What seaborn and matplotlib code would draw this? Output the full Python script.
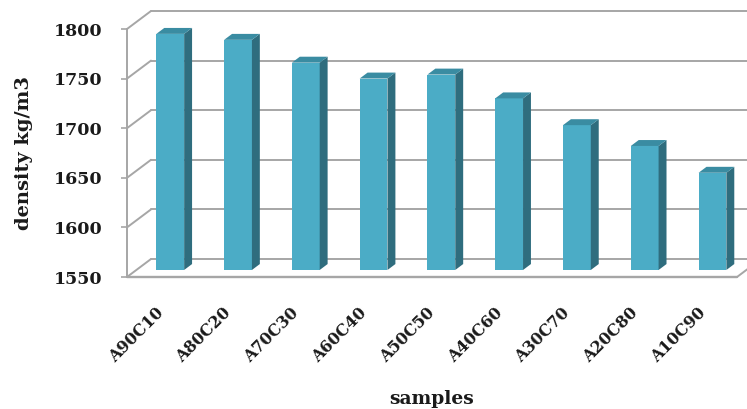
import matplotlib
matplotlib.use("Agg")
import matplotlib.pyplot as plt
import pandas as pd
import seaborn as sns
from matplotlib.patches import Polygon

# Bulk density of each blend
samples = ["A90C10", "A80C20", "A70C30", "A60C40", "A50C50",
           "A40C60", "A30C70", "A20C80", "A10C90"]
density = [1788, 1782, 1759, 1743, 1747, 1723, 1696, 1675, 1648]
y_ticks = [1550, 1600, 1650, 1700, 1750, 1800]

BASE, TOP = y_ticks[0], y_ticks[-1]

sns.set_theme(style="white")
plt.rcParams["font.family"] = ["DejaVu Serif"]
plt.rcParams["font.weight"] = "bold"

W, H = 747, 409
fig = plt.figure(figsize=(W / 100, H / 100), dpi=100)
# front face of the 3-D box, in pixels from the top-left corner
L, R, B, T = 127, 737, 277, 29
ax = fig.add_axes([L / W, 1 - B / H, (R - L) / W, (B - T) / H])

df = pd.DataFrame({"samples": samples, "density": density})
sns.barplot(data=df, x="samples", y="density", color="#4bacc6",
            saturation=1, width=0.41, errorbar=None, ax=ax, zorder=3)
ax.set_xlim(-0.5, len(samples) - 0.5)
ax.set_ylim(BASE, TOP)
ax.set_yticks(y_ticks)

# depth of the box expressed in data units (24 px right, 18 px up)
px_x = (R - L) / len(samples)
px_y = (B - T) / (TOP - BASE)
DX, DY = 24 / px_x, 18 / px_y


def off(x, y, t):
    return (x + t * DX, y + t * DY)


GRID = "#a6a6a6"
FRONT, SIDE, CAP = "#4bacc6", "#2f6d7e", "#3a8ca2"
TF, TB = 0.39, 0.72  # depth of the front and back faces of the bars

# back wall gridlines and left wall diagonals
x_lo, x_hi = -0.5, len(samples) - 0.5
for v in y_ticks:
    a, b = off(x_lo, v, 1), off(x_hi, v, 1)
    ax.plot([a[0], b[0]], [a[1], b[1]], color=GRID, lw=1.4,
            zorder=1, clip_on=False)
    ax.plot([x_lo, a[0]], [v, a[1]], color=GRID, lw=1.4,
            zorder=1, clip_on=False)

# floor: front edge and right-hand side edge
c = off(x_hi, BASE, 1)
ax.plot([x_lo, x_hi], [BASE, BASE], color=GRID, lw=1.7, zorder=2, clip_on=False)
ax.plot([x_hi, c[0]], [BASE, c[1]], color=GRID, lw=1.4, zorder=2, clip_on=False)

# extrude each bar into a prism
for p in ax.patches:
    x0, w, h = p.get_x(), p.get_width(), p.get_height()
    x1 = x0 + w
    p.set_xy(off(x0, BASE, TF))
    p.set_height(h - BASE)
    p.set_edgecolor("none")
    p.set_clip_on(False)
    side = [off(x1, BASE, TF), off(x1, h, TF), off(x1, h, TB), off(x1, BASE, TB)]
    cap = [off(x0, h, TF), off(x1, h, TF), off(x1, h, TB), off(x0, h, TB)]
    ax.add_patch(Polygon(side, closed=True, facecolor=SIDE, edgecolor="none",
                         zorder=3, clip_on=False))
    ax.add_patch(Polygon(cap, closed=True, facecolor=CAP, edgecolor="none",
                         zorder=3, clip_on=False))

for s in ["top", "right", "bottom"]:
    ax.spines[s].set_visible(False)
ax.spines["left"].set_color(GRID)
ax.spines["left"].set_linewidth(1.4)
ax.grid(False)

ax.tick_params(axis="y", left=True, length=4.3, width=1.2, color=GRID,
               pad=13, labelsize=12.5, labelcolor="#1a1a1a")
ax.tick_params(axis="x", length=0, pad=24, labelsize=11.5, labelcolor="#1a1a1a")
for lab in ax.get_xticklabels():
    lab.set_rotation(45)
    lab.set_ha("right")
    lab.set_va("center")
    lab.set_rotation_mode("anchor")
    lab.set_fontweight("bold")
for lab in ax.get_yticklabels():
    lab.set_fontweight("bold")

ax.set_ylabel("density kg/m3", fontsize=14, fontweight="bold", color="#1a1a1a")
ax.yaxis.set_label_coords(-0.154, 0.5)
ax.set_xlabel("samples", fontsize=13.5, fontweight="bold", color="#1a1a1a")
ax.xaxis.set_label_coords(0.5, -0.455)

fig.savefig("out.png", dpi=100, facecolor="white")
